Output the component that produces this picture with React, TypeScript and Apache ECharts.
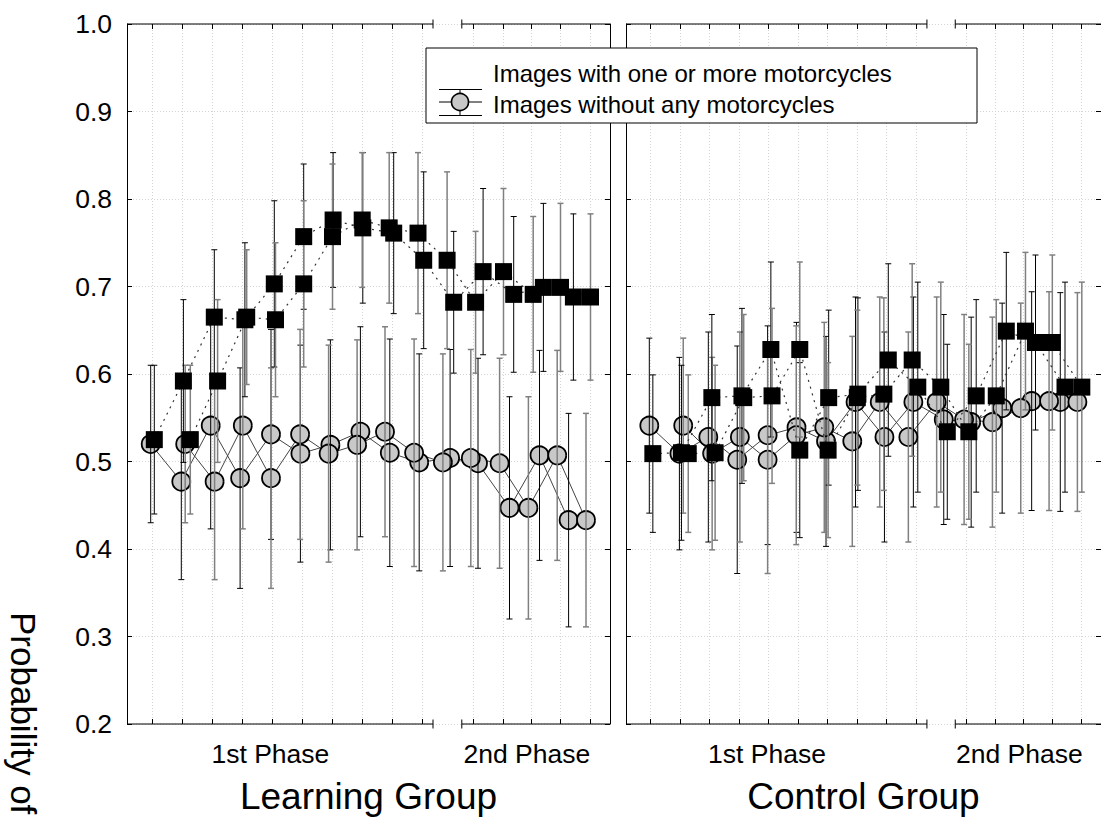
import React, { useEffect, useRef } from "react";
import * as echarts from "echarts";

// ---------- data ----------
const groupNames = ["Learning Group", "Control Group"];
const phaseNames = ["1st Phase", "2nd Phase"];
const legendLabels = ["Images with one or more motorcycles", "Images without any motorcycles"];
const yAxisTitle = "Probability of";

const yMin = 0.2;
const yMax = 1.0;
const yStep = 0.1;

// trial axis (value axis): tick positions, phase label centres, axis break
const xMin = 0.17;
const xMax = 16.27;
const trialTicks = [1, 2, 3, 4, 5, 6, 7, 8, 9, 10, 11.7, 12.7, 13.65, 14.62, 15.6];
const phaseLabelAt = [4.95, 13.5];
const axisBreak = [10.37, 11.33];

// positions of the two plotted copies of each profile
const squarePosA = [1.08, 2.05, 3.08, 4.1, 5.08, 6.06, 7.04, 8.03, 9.06, 10.06, 11.06, 12.04, 13.06, 14.05, 15.05];
const squarePosB = [2.28, 3.19, 4.16, 5.12, 6.06, 7.02, 8.01, 8.91, 9.87, 10.84, 11.79, 12.72, 13.71, 14.62, 15.62];
const circlePosA = [0.96, 1.98, 2.96, 3.94, 4.97, 5.95, 6.95, 7.95, 8.93, 9.91, 10.94, 11.87, 12.92, 13.92, 14.89];
const circlePosB = [2.11, 3.09, 4.03, 4.97, 5.94, 6.89, 7.84, 8.77, 9.74, 10.7, 11.63, 12.59, 13.55, 14.51, 15.47];

// Learning group
const learnWith = [0.525, 0.592, 0.665, 0.662, 0.703, 0.757, 0.776, 0.767, 0.761, 0.730, 0.682, 0.717, 0.691, 0.699, 0.688];
const learnWithErr = [0.085, 0.093, 0.077, 0.088, 0.095, 0.083, 0.077, 0.086, 0.092, 0.101, 0.081, 0.095, 0.089, 0.096, 0.095];
const learnWithout = [0.520, 0.477, 0.541, 0.481, 0.531, 0.509, 0.519, 0.534, 0.510, 0.499, 0.504, 0.498, 0.447, 0.507, 0.433];
const learnWithoutErr = [0.09, 0.112, 0.118, 0.126, 0.12, 0.124, 0.12, 0.12, 0.13, 0.124, 0.124, 0.12, 0.127, 0.12, 0.122];

// Control group
const ctrlWith = [0.509, 0.510, 0.573, 0.575, 0.628, 0.513, 0.573, 0.577, 0.616, 0.585, 0.534, 0.575, 0.649, 0.636, 0.585];
const ctrlWithErr = [0.09, 0.1, 0.095, 0.1, 0.1, 0.1, 0.1, 0.11, 0.11, 0.12, 0.1, 0.11, 0.09, 0.1, 0.12];
const ctrlWithout = [0.541, 0.509, 0.528, 0.502, 0.530, 0.539, 0.523, 0.568, 0.528, 0.568, 0.548, 0.545, 0.561, 0.569, 0.568];
const ctrlWithoutErr = [0.1, 0.11, 0.12, 0.13, 0.125, 0.12, 0.12, 0.12, 0.12, 0.12, 0.12, 0.12, 0.12, 0.125, 0.125];

const panels = [
  { with: learnWith, withErr: learnWithErr, without: learnWithout, withoutErr: learnWithoutErr },
  { with: ctrlWith, withErr: ctrlWithErr, without: ctrlWithout, withoutErr: ctrlWithoutErr },
];

// ---------- styling ----------
const FONT = "'Liberation Sans', Arial, Helvetica, sans-serif";
const gridLefts = [127, 626];
const GRID_TOP = 24;
const GRID_W = 483;
const GRID_H = 700;

const zip = (xs: number[], ys: number[]) => xs.map((x, i) => [x, ys[i]]);
const zip3 = (xs: number[], ys: number[], es: number[]) => xs.map((x, i) => [x, ys[i], es[i]]);

const errorBar = (color: string, width: number) => (params: any, api: any) => {
  const x = api.value(0);
  const y = api.value(1);
  const e = api.value(2);
  const t = api.coord([x, y + e]);
  const b = api.coord([x, y - e]);
  const cap = 3;
  const style = { stroke: color, lineWidth: width };
  return {
    type: "group",
    children: [
      { type: "line", shape: { x1: t[0], y1: t[1], x2: b[0], y2: b[1] }, style },
      { type: "line", shape: { x1: t[0] - cap, y1: t[1], x2: t[0] + cap, y2: t[1] }, style },
      { type: "line", shape: { x1: b[0] - cap, y1: b[1], x2: b[0] + cap, y2: b[1] }, style },
    ],
  };
};

function buildOption() {
  const grid = gridLefts.map((left) => ({ left, top: GRID_TOP, width: GRID_W, height: GRID_H, containLabel: false }));

  const xAxis: any[] = [];
  const yAxis: any[] = [];
  gridLefts.forEach((_, p) => {
    xAxis.push({
      type: "value",
      gridIndex: p,
      position: "bottom",
      min: xMin,
      max: xMax,
      axisLine: { show: false },
      axisTick: { show: true, inside: true, length: 5, customValues: trialTicks, lineStyle: { color: "#000" } },
      axisLabel: {
        show: true,
        customValues: phaseLabelAt,
        formatter: (v: number) => (v < axisBreak[0] ? phaseNames[0] : phaseNames[1]),
        fontSize: 26.5,
        color: "#000",
        margin: 16,
        fontFamily: FONT,
      },
      splitLine: { show: true, lineStyle: { color: "#d4d4d4", type: [1, 2], width: 1 } },
      name: groupNames[p],
      nameLocation: "middle",
      nameGap: 54,
      nameTextStyle: { fontSize: 37, color: "#000", fontFamily: FONT },
    });
    xAxis.push({
      type: "value",
      gridIndex: p,
      position: "top",
      min: xMin,
      max: xMax,
      axisLine: { show: false },
      axisTick: { show: true, inside: true, length: 5, customValues: trialTicks, lineStyle: { color: "#000" } },
      axisLabel: { show: false },
      splitLine: { show: false },
    });
    yAxis.push({
      type: "value",
      gridIndex: p,
      position: "left",
      min: yMin,
      max: yMax,
      interval: yStep,
      axisLine: { show: true, lineStyle: { color: "#000", width: 1 } },
      axisTick: { show: true, inside: true, length: 5, lineStyle: { color: "#000" } },
      axisLabel: {
        show: p === 0,
        fontSize: 26.5,
        color: "#000",
        margin: 15,
        fontFamily: FONT,
        formatter: (v: number) => v.toFixed(1),
      },
      splitLine: { show: true, lineStyle: { color: "#d4d4d4", type: [1, 2], width: 1 } },
    });
    yAxis.push({
      type: "value",
      gridIndex: p,
      position: "right",
      min: yMin,
      max: yMax,
      interval: yStep,
      axisLine: { show: true, lineStyle: { color: "#000", width: 1 } },
      axisTick: { show: true, inside: true, length: 5, lineStyle: { color: "#000" } },
      axisLabel: { show: false },
      splitLine: { show: false },
    });
  });

  const series: any[] = [];
  panels.forEach((pd, p) => {
    const xi = p * 2;
    const yi = p * 2;
    const circleLine = (pos: number[]) => ({
      type: "line",
      xAxisIndex: xi,
      yAxisIndex: yi,
      data: zip(pos, pd.without),
      symbol: "circle",
      symbolSize: 18,
      itemStyle: { color: "#c8c8c8", borderColor: "#000", borderWidth: 1.8 },
      lineStyle: { color: "#444", width: 1, type: "solid" },
      z: 3,
      silent: true,
    });
    const squareLine = (pos: number[]) => ({
      type: "line",
      xAxisIndex: xi,
      yAxisIndex: yi,
      data: zip(pos, pd.with),
      symbol: "rect",
      symbolSize: 17,
      itemStyle: { color: "#000", borderWidth: 0 },
      lineStyle: { color: "#333", width: 1.2, type: [2, 5] },
      z: 5,
      silent: true,
    });
    const bars = (pos: number[], vals: number[], errs: number[], color: string, w: number, z: number) => ({
      type: "custom",
      xAxisIndex: xi,
      yAxisIndex: yi,
      data: zip3(pos, vals, errs),
      encode: { x: 0, y: 1 },
      renderItem: errorBar(color, w),
      z,
      silent: true,
    });
    series.push(circleLine(circlePosA));
    series.push(circleLine(circlePosB));
    series.push(bars(circlePosA, pd.without, pd.withoutErr, "#000", 1, 4));
    series.push(bars(circlePosB, pd.without, pd.withoutErr, "#808080", 1.5, 4));
    series.push(bars(squarePosA, pd.with, pd.withErr, "#000", 1, 4));
    series.push(bars(squarePosB, pd.with, pd.withErr, "#808080", 1.5, 4));
    series.push(squareLine(squarePosA));
    series.push(squareLine(squarePosB));
  });

  return {
    animation: false,
    backgroundColor: "#fff",
    textStyle: { fontFamily: FONT },
    grid,
    xAxis,
    yAxis,
    series,
  };
}

function buildGraphics(chart: any) {
  const els: any[] = [];
  const line = { stroke: "#000", lineWidth: 1 };
  gridLefts.forEach((_, p) => {
    const xa = { xAxisIndex: p * 2 };
    const ya = { yAxisIndex: p * 2 };
    const x0 = chart.convertToPixel(xa, xMin);
    const x1 = chart.convertToPixel(xa, xMax);
    const b0 = chart.convertToPixel(xa, axisBreak[0]);
    const b1 = chart.convertToPixel(xa, axisBreak[1]);
    const yT = chart.convertToPixel(ya, yMax);
    const yB = chart.convertToPixel(ya, yMin);
    [yT, yB].forEach((y) => {
      els.push({ type: "line", shape: { x1: x0, y1: y, x2: b0, y2: y }, style: line, z: 50 });
      els.push({ type: "line", shape: { x1: b1, y1: y, x2: x1, y2: y }, style: line, z: 50 });
      els.push({ type: "line", shape: { x1: b0, y1: y - 4.5, x2: b0, y2: y + 4.5 }, style: line, z: 50 });
      els.push({ type: "line", shape: { x1: b1, y1: y - 4.5, x2: b1, y2: y + 4.5 }, style: line, z: 50 });
    });
  });

  // legend box
  const lx = 426, ly = 48, lw = 551, lh = 75;
  els.push({ type: "rect", shape: { x: lx, y: ly, width: lw, height: lh }, style: { fill: "#fff", stroke: "#000", lineWidth: 1 }, z: 60 });
  els.push({ type: "text", x: 493, y: 73, style: { text: legendLabels[0], fontSize: 24, fontFamily: FONT, fill: "#000", textVerticalAlign: "middle" }, z: 61 });
  els.push({ type: "text", x: 493, y: 104, style: { text: legendLabels[1], fontSize: 24, fontFamily: FONT, fill: "#000", textVerticalAlign: "middle" }, z: 61 });
  const sx0 = 439, sx1 = 482, scx = 460, scy = 102;
  els.push({ type: "line", shape: { x1: sx0, y1: 89.5, x2: sx1, y2: 89.5 }, style: line, z: 61 });
  els.push({ type: "line", shape: { x1: sx0, y1: 115.5, x2: sx1, y2: 115.5 }, style: line, z: 61 });
  els.push({ type: "line", shape: { x1: sx0, y1: scy, x2: sx1, y2: scy }, style: line, z: 61 });
  els.push({ type: "line", shape: { x1: scx, y1: 89.5, x2: scx, y2: 115.5 }, style: line, z: 61 });
  els.push({ type: "circle", shape: { cx: scx, cy: scy, r: 8.5 }, style: { fill: "#c8c8c8", stroke: "#000", lineWidth: 1.6 }, z: 62 });

  // y axis title
  els.push({
    type: "text",
    x: 23,
    y: 612,
    rotation: -Math.PI / 2,
    style: { text: yAxisTitle, fontSize: 35, fontFamily: FONT, fill: "#000", textAlign: "left", textVerticalAlign: "middle" },
    z: 61,
  });
  return els;
}

export default function App() {
  const ref = useRef<HTMLDivElement>(null);
  useEffect(() => {
    if (!ref.current) return;
    const chart = echarts.init(ref.current, undefined, { renderer: "svg" });
    chart.setOption(buildOption() as any);
    chart.setOption({ graphic: buildGraphics(chart) } as any);
    return () => chart.dispose();
  }, []);
  return (
    <div
      ref={ref}
      style={{ position: "fixed", left: 0, top: 0, width: 1101, height: 828, background: "#fff" }}
    />
  );
}
